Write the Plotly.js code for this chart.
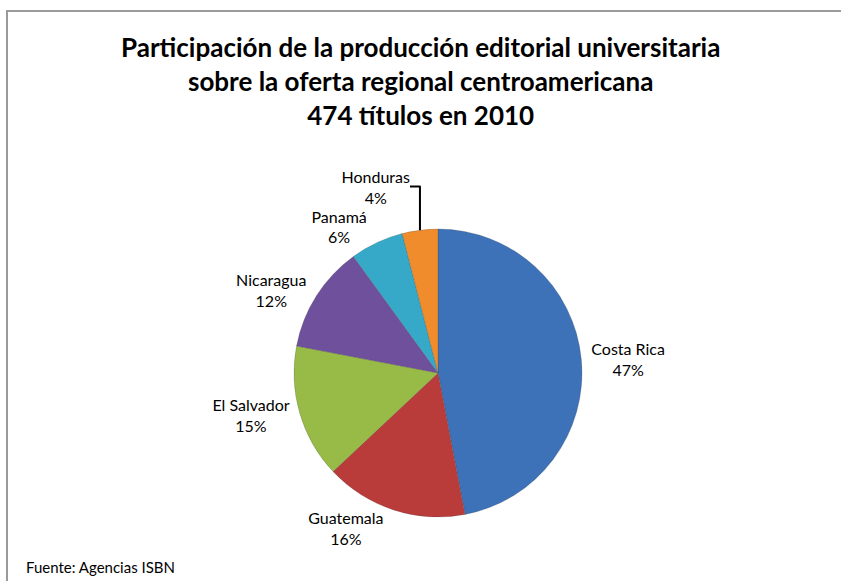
<!DOCTYPE html>
<html>
<head>
<meta charset="utf-8">
<script src="https://cdn.plot.ly/plotly-3.0.1.min.js"></script>
<style>html,body{margin:0;padding:0;background:#fff;}#chart{width:841px;height:581px;}</style>
</head>
<body>
<div id="chart"></div>
<script>
const countries = ["Costa Rica", "Guatemala", "El Salvador", "Nicaragua", "Panamá", "Honduras"];
const shares = [47, 16, 15, 12, 6, 4];
const sliceColors = ["#3d71b8", "#b93c3a", "#98bb47", "#6f509c", "#37a9c8", "#f08c2c"];
const titleLines = ["Participación de la producción editorial universitaria", "sobre la oferta regional centroamericana", "474 títulos en 2010"];
const sourceNote = "Fuente: Agencias ISBN";

const W = 841, H = 581;
const cx = 438, cy = 373, r = 144;
const FONT = "Lato, 'Open Sans', sans-serif";

const trace = {
  type: "pie",
  labels: countries,
  values: shares,
  sort: false,
  direction: "clockwise",
  rotation: 0,
  marker: {colors: sliceColors, line: {color: "rgba(60,60,60,0.35)", width: 0.6}},
  textinfo: "label+percent",
  texttemplate: "%{label}<br>%{percent:.0%}",
  textposition: "outside",
  outsidetextfont: {family: FONT, size: 16, color: "#000"},
  hoverinfo: "none",
  showlegend: false,
  domain: {x: [(cx - r) / W, (cx + r) / W], y: [(H - cy - r) / H, (H - cy + r) / H]}
};

const layout = {
  width: W, height: H,
  margin: {l: 0, r: 0, t: 0, b: 0},
  paper_bgcolor: "#fff",
  font: {family: FONT, color: "#000"},
  annotations: [
    {
      text: "<b>" + titleLines.join("<br>") + "</b>",
      xref: "paper", yref: "paper", x: 0.5, y: 1 - 29 / H,
      xanchor: "center", yanchor: "top", showarrow: false, align: "center",
      font: {family: FONT, size: 26, color: "#000"}
    },
    {
      text: sourceNote, xref: "paper", yref: "paper", x: 24 / W, y: 3 / H,
      xanchor: "left", yanchor: "bottom", showarrow: false,
      font: {family: FONT, size: 15, color: "#000"}
    }
  ],
  shapes: [
    {type: "line", xref: "paper", yref: "paper", x0: 7 / W, x1: 1, y0: 1 - 11 / H, y1: 1 - 11 / H, line: {color: "#9a9a9a", width: 2}},
    {type: "line", xref: "paper", yref: "paper", x0: 7 / W, x1: 7 / W, y0: 1 - 10 / H, y1: 0, line: {color: "#9a9a9a", width: 2}}
  ]
};

Plotly.newPlot("chart", [trace], layout, {displayModeBar: false, staticPlot: true});
</script>
</body>
</html>
